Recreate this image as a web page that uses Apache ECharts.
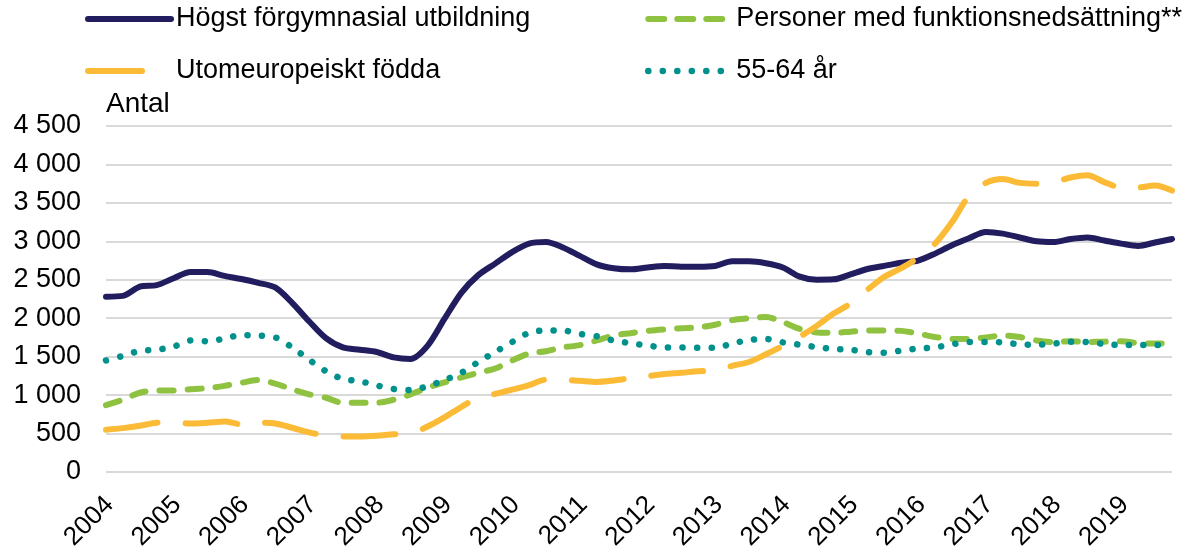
<!DOCTYPE html>
<html>
<head>
<meta charset="utf-8">
<script src="https://cdn.jsdelivr.net/npm/echarts@6/dist/echarts.min.js"></script>
<style>
  html, body { margin: 0; padding: 0; background: #fff; }
  #chart { width: 1196px; height: 553px; }
</style>
</head>
<body>
<div id="chart"></div>
<script>
// kvartal 2004 K1 - 2019 K4
var quarters = [
  '2004K1','2004K2','2004K3','2004K4','2005K1','2005K2','2005K3','2005K4',
  '2006K1','2006K2','2006K3','2006K4','2007K1','2007K2','2007K3','2007K4',
  '2008K1','2008K2','2008K3','2008K4','2009K1','2009K2','2009K3','2009K4',
  '2010K1','2010K2','2010K3','2010K4','2011K1','2011K2','2011K3','2011K4',
  '2012K1','2012K2','2012K3','2012K4','2013K1','2013K2','2013K3','2013K4',
  '2014K1','2014K2','2014K3','2014K4','2015K1','2015K2','2015K3','2015K4',
  '2016K1','2016K2','2016K3','2016K4','2017K1','2017K2','2017K3','2017K4',
  '2018K1','2018K2','2018K3','2018K4','2019K1','2019K2','2019K3','2019K4'
]

var forgymnasial = [
  2280, 2290, 2410, 2430, 2520, 2600, 2600, 2550,
  2510, 2460, 2400, 2200, 1960, 1740, 1620, 1590,
  1560, 1490, 1470, 1640, 1990, 2330, 2560, 2710,
  2860, 2970, 2990, 2920, 2810, 2700, 2650, 2635,
  2660, 2680, 2670, 2670, 2680, 2740, 2740, 2715,
  2660, 2540, 2500, 2505, 2570, 2640, 2680, 2720,
  2750, 2840, 2950, 3040, 3120, 3100, 3050, 3000,
  2990, 3030, 3050, 3010, 2970, 2940, 2985, 3030
]

var funktionsnedsattning = [
  870, 940, 1030, 1060, 1060, 1075, 1090, 1120,
  1160, 1195, 1150, 1075, 1010, 965, 900, 900,
  900, 940, 1010, 1095, 1165, 1230, 1290, 1345,
  1450, 1540, 1570, 1620, 1650, 1710, 1775, 1805,
  1835, 1855, 1870, 1880, 1915, 1975, 2000, 2015,
  1950, 1860, 1815, 1810, 1825, 1840, 1840, 1835,
  1800, 1755, 1730, 1730, 1750, 1775, 1755, 1710,
  1690, 1700, 1690, 1695, 1700, 1675, 1670, 1670
]

var utomeuropeiskt = [
  550, 570, 600, 640, 645, 630, 640, 655,
  620, 640, 630, 575, 515, 475, 460, 460,
  470, 490, 500, 590, 710, 845, 970, 1015,
  1070, 1130, 1200, 1200, 1185, 1170, 1190, 1220,
  1245, 1275, 1290, 1310, 1315, 1380, 1430, 1530,
  1640, 1760, 1900, 2060, 2190, 2370, 2540, 2650,
  2790, 2970, 3250, 3590, 3760, 3810, 3760, 3750,
  3770, 3830, 3860, 3770, 3700, 3700, 3725, 3660
]

var aldre = [
  1450, 1510, 1575, 1590, 1630, 1710, 1700, 1735,
  1780, 1775, 1750, 1620, 1460, 1310, 1210, 1180,
  1125, 1080, 1065, 1115, 1195, 1290, 1430, 1560,
  1690, 1810, 1840, 1840, 1795, 1765, 1710, 1675,
  1645, 1620, 1620, 1615, 1615, 1670, 1715, 1730,
  1685, 1655, 1625, 1600, 1590, 1560, 1550, 1580,
  1605, 1620, 1660, 1690, 1690, 1685, 1660, 1655,
  1670, 1695, 1690, 1665, 1650, 1650, 1650, 1650
]

var names = [
  'Högst förgymnasial utbildning',
  'Personer med funktionsnedsättning**',
  'Utomeuropeiskt födda',
  '55-64 år'
]

var colors = ['#211d5e', '#8fc240', '#fbbb36', '#00918c']

var font = '"Liberation Sans", Arial, sans-serif'

var chart = echarts.init(document.getElementById('chart'))

function fmt(v) {
  return String(v).replace(/\B(?=(\d{3})+(?!\d))/g, ' ')
}

function legendItem(i, dash, width) {
  return {
    name: names[i],
    itemStyle: { opacity: 0 },
    lineStyle: { color: colors[i], width: width, type: dash, cap: 'round' }
  }
}

var legendText = { fontSize: 27, color: '#000', lineHeight: 30, fontFamily: font }

chart.setOption({
  animation: false,
  textStyle: { fontFamily: font, color: '#000' },
  legend: [
    {
      data: [legendItem(0, 'solid', 6), legendItem(2, [54, 60], 6)],
      orient: 'vertical',
      left: 80,
      top: -1,
      itemWidth: 83,
      itemHeight: 14,
      itemGap: 22,
      textStyle: legendText
    },
    {
      data: [legendItem(1, [16, 13], 6), legendItem(3, [0.1, 14.4], 6.5)],
      orient: 'vertical',
      left: 640,
      top: -1,
      itemWidth: 83,
      itemHeight: 14,
      itemGap: 22,
      textStyle: legendText
    }
  ],
  grid: {
    left: 106,
    right: 24,
    top: 126,
    bottom: 78,
    containLabel: false
  },
  xAxis: {
    type: 'category',
    data: quarters,
    boundaryGap: false,
    axisLine: { show: false },
    axisTick: { show: false },
    splitLine: { show: false },
    axisLabel: {
      interval: 3,
      rotate: 45,
      margin: 14,
      fontSize: 26,
      color: '#000',
      fontFamily: font,
      verticalAlign: 'top',
      padding: [0, 8, 0, 0],
      formatter: function (v) { return v.slice(0, 4) }
    }
  },
  yAxis: {
    type: 'value',
    min: 0,
    max: 4500,
    interval: 500,
    name: 'Antal',
    nameLocation: 'end',
    nameGap: 8,
    nameTextStyle: { fontSize: 28, color: '#000', align: 'left', fontFamily: font },
    axisLine: { show: false },
    axisTick: { show: false },
    axisLabel: {
      fontSize: 27,
      color: '#000',
      margin: 25,
      fontFamily: font,
      formatter: fmt
    },
    splitLine: { lineStyle: { color: '#d9d9d9', width: 2 } }
  },
  series: [
    {
      name: names[0],
      type: 'line',
      data: forgymnasial,
      symbol: 'none',
      smooth: 0.3,
      color: colors[0],
      lineStyle: { width: 6, color: colors[0], cap: 'round' }
    },
    {
      name: names[1],
      type: 'line',
      data: funktionsnedsattning,
      symbol: 'none',
      smooth: 0.3,
      color: colors[1],
      lineStyle: { width: 6, color: colors[1], type: [14, 14], cap: 'round' }
    },
    {
      name: names[2],
      type: 'line',
      data: utomeuropeiskt,
      symbol: 'none',
      smooth: 0.3,
      color: colors[2],
      lineStyle: { width: 6, color: colors[2], type: [52, 28], cap: 'round' }
    },
    {
      name: names[3],
      type: 'line',
      data: aldre,
      symbol: 'none',
      smooth: 0.3,
      color: colors[3],
      lineStyle: { width: 6.5, color: colors[3], type: [0.1, 14.4], cap: 'round' }
    }
  ]
})
</script>
</body>
</html>
